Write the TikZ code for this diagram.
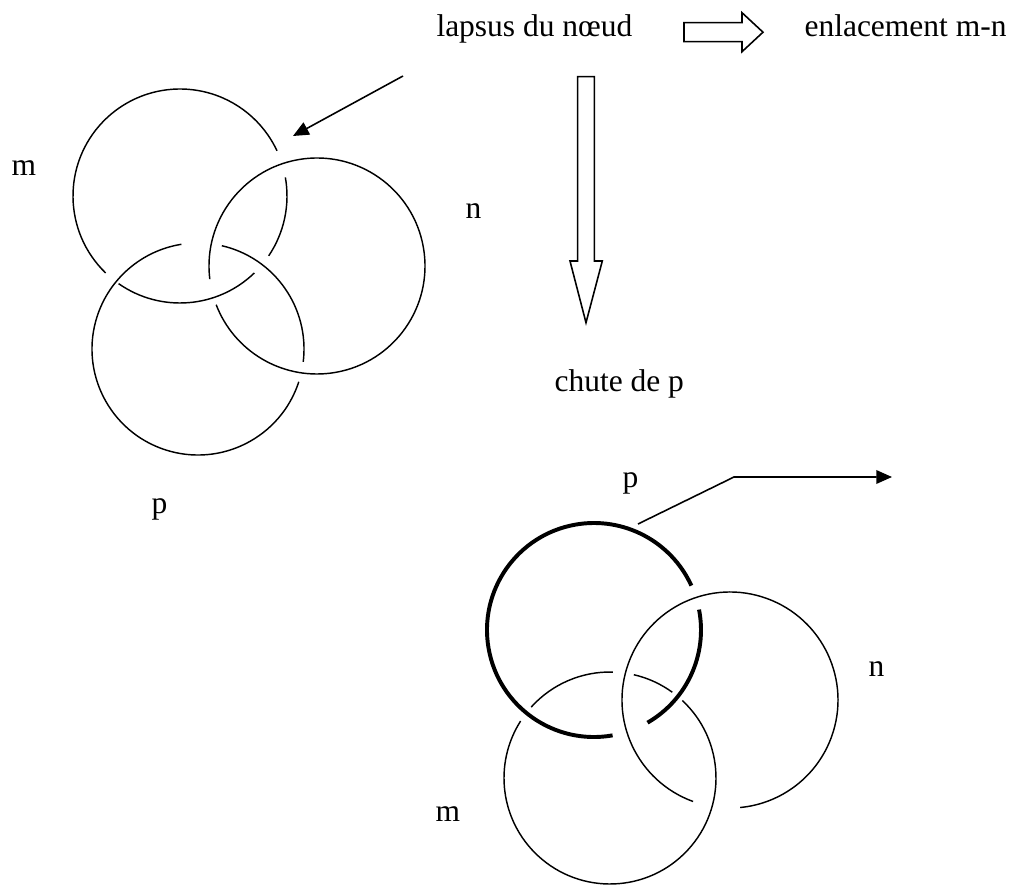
\documentclass[tikz,border=0pt]{standalone}
\usepackage{fontspec}
\setmainfont{Liberation Serif}
\usetikzlibrary{arrows.meta}
\tikzset{
  >={Triangle[length=6pt,width=5.2pt]},
  font=\fontsize{12}{14}\selectfont,
  ring/.style={line width=0.55pt},
  fallen/.style={line width=1.5pt},
  lbl/.style={inner sep=0pt},
  pointer/.style={->,line width=0.6pt},
  blockarrow/.style={line width=0.6pt,line join=miter},
}

\begin{document}
\begin{tikzpicture}[x=0.381pt,y=-0.381pt]
  \useasboundingbox (0,0) rectangle (1016,888);

  % texts
  \node[lbl,anchor=base east] (lapsus) at (633,37) {lapsus du nœud};
  \node[lbl,anchor=base west] (enlace) at (804,37) {enlacement m-n};
  \node[lbl,anchor=base west] (chute) at (554,392) {chute de p};

  % block arrows
  \draw[blockarrow] (684,22.7) -- (742,22.7) -- (742,12.7) -- (763,32.2)
    -- (742,51.7) -- (742,41.7) -- (684,41.7) -- cycle;
  \draw[blockarrow] (577.7,76.7) -- (594.3,76.7) -- (594.3,261) -- (602.3,261)
    -- (586,322.7) -- (570,261) -- (577.7,261) -- cycle;

  % knot before the slip
  \coordinate (m1) at (180,196);
  \coordinate (n1) at (317,266);
  \coordinate (p1) at (198,349);
  \foreach \c/\r/\a/\b in {m1/107/-10/34, m1/107/46/125, m1/107/134/335,
                           n1/108/173/519, p1/106/18/261, p1/106/-77/7}
    \draw[ring] ([shift={(\a:\r)}]\c) arc[start angle=\a,end angle=\b,radius=\r];
  \node[lbl,anchor=base west] (m1lbl) at (11,176) {m};
  \node[lbl,anchor=base west] (n1lbl) at (465,219) {n};
  \node[lbl,anchor=base west] (p1lbl) at (151,513) {p};

  % where the slip is
  \coordinate (slipfrom) at (403,76);
  \coordinate (slipat) at (293,136);
  \draw[pointer] (slipfrom) -- (slipat);

  % after the fall of p
  \coordinate (m2) at (610,778);
  \coordinate (n2) at (730,700);
  \coordinate (p2) at (594,630);
  \foreach \c/\r/\a/\b in {m2/106/222/271.5, m2/106/283/306, m2/106/313/572.5,
                           n2/108/110/444.6}
    \draw[ring] ([shift={(\a:\r)}]\c) arc[start angle=\a,end angle=\b,radius=\r];
  \foreach \a/\b in {-11/60, 80/335.5}
    \draw[fallen] ([shift={(\a:107)}]p2) arc[start angle=\a,end angle=\b,radius=107];
  \node[lbl,anchor=base west] (p2lbl) at (622,488) {p};
  \node[lbl,anchor=base west] (n2lbl) at (868,677) {n};
  \node[lbl,anchor=base west] (m2lbl) at (435,822) {m};

  % p goes away
  \coordinate (pfrom) at (638,524);
  \coordinate (pbend) at (734,477);
  \coordinate (pto) at (892,477);
  \draw[pointer] (pfrom) -- (pbend) -- (pto);
\end{tikzpicture}
\end{document}
